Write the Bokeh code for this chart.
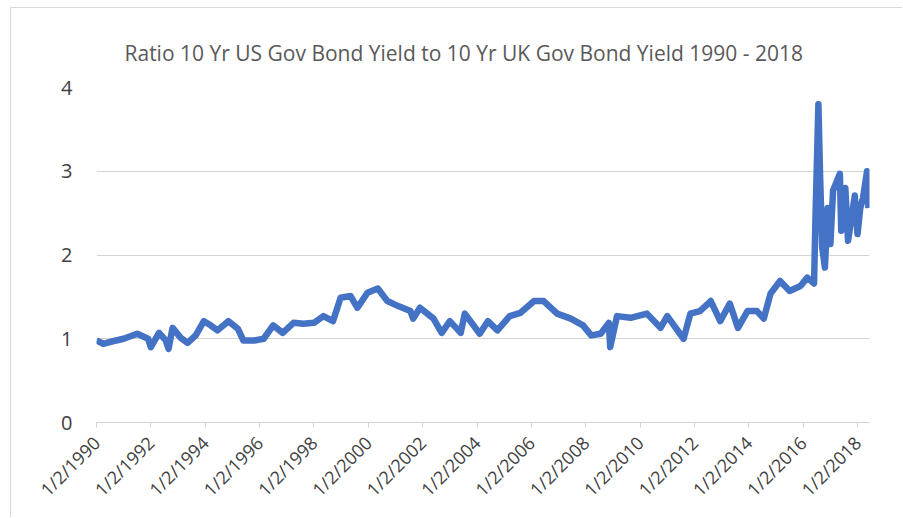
import math
from bokeh.plotting import figure
from bokeh.models import Range1d, FixedTicker, ColumnDataSource
from bokeh.embed import file_html
from bokeh.resources import INLINE

title_text = "Ratio 10 Yr US Gov Bond Yield to 10 Yr UK Gov Bond Yield 1990 - 2018"

# decimal year of observation
years = [
    1990.00, 1990.25, 1990.60, 1991.00, 1991.50, 1991.90, 1992.00, 1992.30, 1992.55, 1992.65,
    1992.80, 1993.10, 1993.35, 1993.65, 1993.95, 1994.20, 1994.45, 1994.85, 1995.20, 1995.40,
    1995.80, 1996.15, 1996.50, 1996.85, 1997.25, 1997.60, 1998.00, 1998.35, 1998.70, 1998.98,
    1999.35, 1999.60, 1999.97, 2000.35, 2000.70, 2001.10, 2001.55, 2001.65, 2001.90, 2002.40,
    2002.70, 2003.00, 2003.40, 2003.55, 2004.10, 2004.40, 2004.75, 2005.20, 2005.60, 2006.10,
    2006.45, 2006.95, 2007.45, 2007.90, 2008.20, 2008.55, 2008.85, 2008.90, 2009.15, 2009.65,
    2010.25, 2010.75, 2011.00, 2011.60, 2011.85, 2012.20, 2012.60, 2012.95, 2013.30, 2013.60,
    2013.95, 2014.30, 2014.55, 2014.80, 2015.15, 2015.50, 2015.90, 2016.15, 2016.40, 2016.45,
    2016.56, 2016.62, 2016.70, 2016.80, 2016.90, 2017.00, 2017.10, 2017.25, 2017.35, 2017.40,
    2017.55, 2017.65, 2017.80, 2017.90, 2018.00, 2018.10, 2018.20, 2018.35, 2018.40,
]
# ratio of US 10y yield to UK 10y yield
ratio = [
    0.98, 0.94, 0.97, 1.00, 1.06, 1.00, 0.90, 1.07, 0.98, 0.88,
    1.13, 1.01, 0.95, 1.04, 1.21, 1.16, 1.10, 1.21, 1.12, 0.98,
    0.98, 1.00, 1.16, 1.07, 1.19, 1.18, 1.19, 1.27, 1.21, 1.49,
    1.51, 1.37, 1.55, 1.60, 1.45, 1.39, 1.33, 1.24, 1.37, 1.24,
    1.07, 1.21, 1.07, 1.30, 1.06, 1.21, 1.10, 1.27, 1.31, 1.45,
    1.45, 1.30, 1.24, 1.16, 1.04, 1.06, 1.19, 0.90, 1.27, 1.25,
    1.30, 1.13, 1.27, 1.00, 1.30, 1.33, 1.45, 1.21, 1.42, 1.13,
    1.33, 1.33, 1.24, 1.54, 1.69, 1.57, 1.63, 1.73, 1.66, 2.41,
    3.80, 2.97, 2.09, 1.85, 2.56, 2.13, 2.77, 2.89, 2.97, 2.29,
    2.80, 2.17, 2.49, 2.71, 2.25, 2.56, 2.68, 3.00, 2.56,
]

tick_years = list(range(1990, 2019, 2))
tick_labels = ["1/2/%d" % y for y in tick_years]
y_ticks = [0, 1, 2, 3, 4]

src = ColumnDataSource(data=dict(x=years, y=ratio))

p = figure(width=892, height=510, output_backend="svg", toolbar_location=None,
           x_range=Range1d(1990, 2018.44), y_range=Range1d(0, 4),
           min_border_left=85, min_border_right=34, min_border_top=79, min_border_bottom=96,
           title=title_text)
p.margin = (7, 0, 0, 10)
p.styles = {"border-top": "1px solid #d9d9d9", "border-left": "1px solid #d9d9d9"}
p.title.align = "left"
p.title.offset = 28
p.title.text_font = "Open Sans"
p.title.text_font_size = "21px"
p.title.text_font_style = "normal"
p.title.text_color = "#595959"
p.title.standoff = 42
p.outline_line_color = None
p.background_fill_color = "white"
p.border_fill_color = "white"

p.line("x", "y", source=src, line_color="#4472C4", line_width=6.5, line_join="round")

p.xgrid.grid_line_color = None
p.ygrid.grid_line_color = "#d3d3d3"
p.ygrid.grid_line_width = 1
p.ygrid.ticker = FixedTicker(ticks=y_ticks)

p.yaxis.ticker = FixedTicker(ticks=y_ticks)
p.yaxis.axis_line_color = None
p.yaxis.major_tick_line_color = None
p.yaxis.minor_tick_line_color = None
p.yaxis.major_label_text_font = "Open Sans"
p.yaxis.major_label_text_font_size = "20px"
p.yaxis.major_label_text_color = "#404040"
p.yaxis.major_label_standoff = 18

p.xaxis.ticker = FixedTicker(ticks=tick_years)
p.xaxis.major_label_overrides = {y: l for y, l in zip(tick_years, tick_labels)}
p.xaxis.major_label_orientation = math.pi / 4
p.xaxis.axis_line_color = "#d3d3d3"
p.xaxis.major_tick_line_color = "#d3d3d3"
p.xaxis.major_tick_in = 0
p.xaxis.major_tick_out = 5
p.xaxis.minor_tick_line_color = None
p.xaxis.major_label_text_font = "Open Sans"
p.xaxis.major_label_text_font_size = "18px"
p.xaxis.major_label_text_color = "#404040"
p.xaxis.major_label_standoff = 12

open("out.html", "w").write(file_html(p, INLINE))
